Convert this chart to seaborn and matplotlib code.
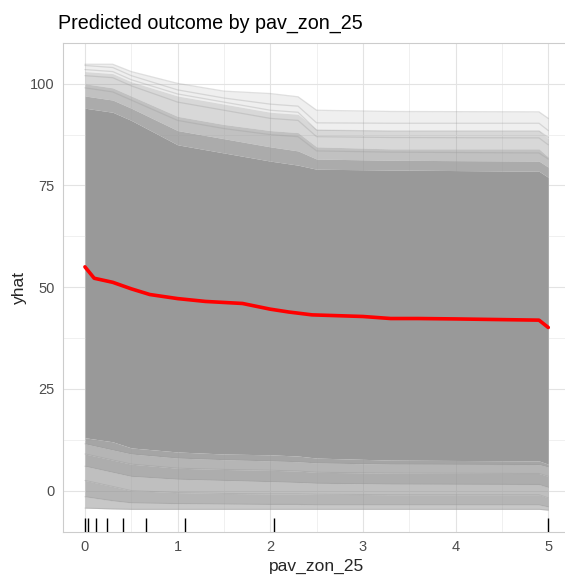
import numpy as np
import pandas as pd
import matplotlib
matplotlib.use("Agg")
import matplotlib.pyplot as plt
import seaborn as sns

# ---------------- data ----------------
# grid of the ICE curves
ice_x = [0, 0.3, 0.5, 1.0, 1.5, 2.0, 2.3, 2.5, 3.3, 4.9, 5.0]

# envelope levels of the bundle of ICE curves
band_max      = [104.8, 104.8, 103.0, 100.1, 98.2, 97.6, 96.8, 93.5, 93.2, 93.1, 91.5]
band_high     = [103.0, 102.5, 100.5, 97.0, 95.0, 93.0, 92.5, 88.8, 88.5, 88.5, 86.5]
band_mid      = [100.0, 99.0, 97.0, 92.0, 90.0, 88.5, 88.0, 84.5, 84.0, 84.0, 82.0]
band_dense    = [97.0, 96.0, 94.0, 88.5, 86.5, 84.5, 83.5, 81.5, 81.2, 81.0, 79.5]
band_soltop   = [94.0, 93.0, 91.0, 85.0, 83.0, 81.0, 80.0, 79.0, 78.8, 78.5, 77.0]
band_solbot   = [13.0, 12.0, 10.5, 9.5, 9.0, 8.8, 8.5, 8.0, 7.5, 7.3, 6.5]

# individual visible curves at the fringes
upper_1 = [104.8, 104.8, 103.0, 100.1, 98.2, 97.6, 96.8, 93.5, 93.2, 93.1, 91.5]
upper_2 = [104.5, 104.0, 102.0, 98.5, 96.5, 95.0, 94.5, 90.4, 90.3, 90.3, 88.5]
upper_3 = [103.5, 103.0, 101.0, 97.5, 95.5, 93.5, 93.0, 88.6, 88.4, 88.4, 86.8]
upper_4 = [102.0, 101.5, 99.5, 95.5, 93.5, 91.5, 91.0, 87.0, 86.8, 86.7, 85.0]
upper_5 = [99.0, 98.0, 96.0, 91.0, 89.0, 87.5, 87.0, 83.5, 83.2, 83.0, 81.5]
lower_1 = [-4.3, -4.5, -4.6, -4.6, -4.6, -4.6, -4.6, -4.6, -4.6, -4.6, -4.8]
lower_2 = [-1.5, -2.5, -3.0, -3.2, -3.3, -3.4, -3.4, -3.5, -3.5, -3.5, -4.0]
lower_3 = [2.5, 1.0, 0.0, -0.5, -0.7, -0.8, -0.8, -0.9, -1.0, -1.0, -1.8]
lower_4 = [6.0, 4.5, 3.5, 2.8, 2.5, 2.2, 2.0, 1.8, 1.6, 1.5, 0.8]
lower_5 = [9.0, 7.5, 6.5, 5.5, 5.2, 5.0, 4.8, 4.5, 4.3, 4.2, 3.5]
lower_6 = [11.5, 10.0, 9.0, 8.0, 7.6, 7.3, 7.1, 6.8, 6.5, 6.4, 5.8]

# average (PDP) curve
pdp_x = [0, 0.1, 0.3, 0.5, 0.7, 1.0, 1.3, 1.7, 2.0, 2.2, 2.45, 3.0, 3.3, 3.6, 4.0, 4.6, 4.9, 5.0]
pdp_y = [55.0, 52.2, 51.2, 49.6, 48.2, 47.2, 46.5, 46.0, 44.6, 43.9, 43.2, 42.8, 42.3, 42.3, 42.2, 42.0, 41.9, 40.1]

# rug (observed feature values)
rug_x = [0, 0.036, 0.119, 0.237, 0.407, 0.655, 1.083, 2.036, 5.0]

title = "Predicted outcome by pav_zon_25"
xlabel = "pav_zon_25"
ylabel = "yhat"
x_ticks = [0, 1, 2, 3, 4, 5]
y_ticks = [0, 25, 50, 75, 100]

# ---------------- plot ----------------
sns.set_theme(style="white")
plt.rcParams["font.family"] = ["Liberation Sans", "DejaVu Sans"]

fig = plt.figure(figsize=(5.65, 5.75), dpi=100)
ax = fig.add_axes([62.7 / 565, 43.3 / 575, 507.8 / 565, 489.0 / 575])

grey = "#999999"
# dense core of the ICE bundle
ax.fill_between(ice_x, band_solbot, band_soltop, color=grey, lw=0, zorder=2)
# upper fringe, thinning out
upper_levels = [band_soltop, band_dense, band_mid, band_high, band_max]
upper_alphas = [0.82, 0.6, 0.38, 0.15]
for lo, hi, a in zip(upper_levels[:-1], upper_levels[1:], upper_alphas):
    ax.fill_between(ice_x, lo, hi, color=grey, alpha=a, lw=0, zorder=2)
# lower fringe, striped
lower_levels = [lower_1, lower_2, lower_3, lower_4, lower_5, lower_6, band_solbot]
lower_alphas = [0.55, 0.72, 0.62, 0.8, 0.72, 0.88]
for lo, hi, a in zip(lower_levels[:-1], lower_levels[1:], lower_alphas):
    ax.fill_between(ice_x, lo, hi, color=grey, alpha=a, lw=0, zorder=2)

upper = [upper_1, upper_2, upper_3, upper_4, upper_5]
lower = [lower_1, lower_2, lower_3, lower_4, lower_5, lower_6]
rows = []
for i, ys in enumerate(upper):
    for xv, yv in zip(ice_x, ys):
        rows.append({"x": xv, "y": yv, "id": f"u{i}", "grp": "upper"})
for i, ys in enumerate(lower):
    for xv, yv in zip(ice_x, ys):
        rows.append({"x": xv, "y": yv, "id": f"l{i}", "grp": "lower"})
ice_df = pd.DataFrame(rows)

sns.lineplot(data=ice_df[ice_df.grp == "upper"], x="x", y="y", units="id",
             estimator=None, color=grey, alpha=0.3, lw=0.9, ax=ax, zorder=3)
sns.lineplot(data=ice_df[ice_df.grp == "lower"], x="x", y="y", units="id",
             estimator=None, color=grey, alpha=0.35, lw=0.8, ax=ax, zorder=3)

pdp_df = pd.DataFrame({"x": pdp_x, "y": pdp_y})
sns.lineplot(data=pdp_df, x="x", y="y", color="red", lw=2.6, ax=ax, zorder=5)

sns.rugplot(x=rug_x, height=0.028, color="black", lw=1.0, ax=ax, zorder=6)

ax.set_xlim(-0.24, 5.24)
ax.set_ylim(-10.1, 110.1)
ax.set_xticks(x_ticks)
ax.set_yticks(y_ticks)
ax.set_xticks([0.5, 1.5, 2.5, 3.5, 4.5], minor=True)
ax.set_yticks([12.5, 37.5, 62.5, 87.5], minor=True)
ax.grid(which="major", color="#e3e3e3", lw=0.8, zorder=0)
ax.grid(which="minor", color="#eeeeee", lw=0.6, zorder=0)
ax.set_axisbelow(True)
ax.tick_params(axis="both", which="both", length=0, labelsize=10.5,
               labelcolor="#4d4d4d")
ax.tick_params(axis="x", pad=6)
ax.tick_params(axis="y", pad=6)
for s in ax.spines.values():
    s.set_color("#cccccc")
    s.set_linewidth(0.8)
ax.set_xlabel("")
ax.set_ylabel("")

fig.text(58 / 565, 1 - 29 / 575, title, fontsize=14.2, color="black",
         ha="left", va="baseline")
fig.text(316.6 / 565, 1 - 566 / 575, xlabel, fontsize=12.5, ha="center", va="center")
fig.text(19 / 565, 1 - 287.2 / 575, ylabel, fontsize=12.5, ha="center",
         va="center", rotation=90)

fig.savefig("out.png", dpi=100)
